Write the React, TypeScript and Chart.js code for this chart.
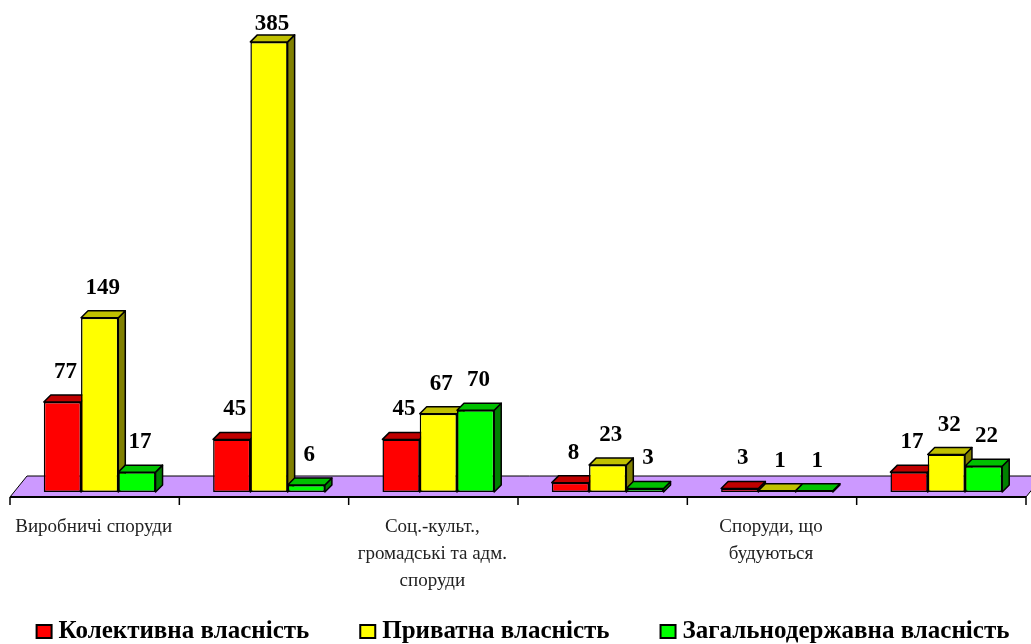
import React, { useEffect, useRef } from "react";
import { Chart, registerables } from "chart.js";

Chart.register(...registerables);

// ---- data ----
const categories: (string | string[])[] = [
  "Виробничі споруди",
  "",
  ["Соц.-культ.,", "громадські та адм.", "споруди"],
  "",
  ["Споруди, що", "будуються"],
  "",
];
const seriesNames = ["Колективна власність", "Приватна власність", "Загальнодержавна власність"];
const collectiveValues = [77, 45, 45, 8, 3, 17];
const privateValues = [149, 385, 67, 23, 1, 32];
const stateValues = [17, 6, 70, 3, 1, 22];

// ---- styles ----
const frontColors = ["#FF0000", "#FFFF00", "#00FF00"];
const topColors = ["#C00000", "#C0C000", "#00C000"];
const sideColors = ["#800000", "#808000", "#008000"];
const floorColor = "#CC99FF";
const DEPTH_X = 7;
const DEPTH_Y = 7;
const FLOOR_DX = 17;
const FLOOR_DY = 21;
const FLOOR_FRONT = 5;
const SERIF = "'Liberation Serif', 'Times New Roman', serif";

const threeD = {
  id: "threeD",
  beforeDatasetsDraw(chart: any) {
    const { ctx, chartArea } = chart;
    const xs = chart.scales.x;
    const ys = chart.scales.y;
    const base = ys.getPixelForValue(0);
    const fy = base + FLOOR_FRONT;
    const fl = chartArea.left - FLOOR_FRONT;
    const fr = chartArea.right - FLOOR_FRONT;
    ctx.save();
    // floor
    ctx.beginPath();
    ctx.moveTo(fl, fy);
    ctx.lineTo(fl + FLOOR_DX, fy - FLOOR_DY);
    ctx.lineTo(fr + FLOOR_DX, fy - FLOOR_DY);
    ctx.lineTo(fr, fy);
    ctx.closePath();
    ctx.fillStyle = floorColor;
    ctx.fill();
    ctx.lineWidth = 1;
    ctx.strokeStyle = "#000";
    ctx.stroke();
    // axis line
    ctx.beginPath();
    ctx.lineWidth = 2;
    ctx.moveTo(fl, fy);
    ctx.lineTo(fr, fy);
    ctx.stroke();
    // tick marks at category boundaries
    const n = categories.length;
    const catW = (chartArea.right - chartArea.left) / n;
    ctx.lineWidth = 1.5;
    for (let i = 0; i <= n; i++) {
      const cx = i < n ? xs.getPixelForValue(i) - catW / 2 : xs.getPixelForValue(n - 1) + catW / 2;
      const x = cx - FLOOR_FRONT;
      ctx.beginPath();
      ctx.moveTo(x, fy);
      ctx.lineTo(x, fy + 8);
      ctx.stroke();
    }
    // tops and sides of bars
    ctx.lineWidth = 1.5;
    ctx.lineJoin = "round";
    chart.data.datasets.forEach((ds: any, di: number) => {
      const meta = chart.getDatasetMeta(di);
      meta.data.forEach((el: any) => {
        const { x, y, base: b, width } = el.getProps(["x", "y", "base", "width"], true);
        const x0 = x - width / 2;
        const x1 = x + width / 2;
        // side
        ctx.beginPath();
        ctx.moveTo(x1, y);
        ctx.lineTo(x1 + DEPTH_X, y - DEPTH_Y);
        ctx.lineTo(x1 + DEPTH_X, b - DEPTH_Y);
        ctx.lineTo(x1, b);
        ctx.closePath();
        ctx.fillStyle = sideColors[di];
        ctx.fill();
        ctx.stroke();
        // top
        ctx.beginPath();
        ctx.moveTo(x0, y);
        ctx.lineTo(x0 + DEPTH_X, y - DEPTH_Y);
        ctx.lineTo(x1 + DEPTH_X, y - DEPTH_Y);
        ctx.lineTo(x1, y);
        ctx.closePath();
        ctx.fillStyle = topColors[di];
        ctx.fill();
        ctx.stroke();
      });
    });
    ctx.restore();
  },
  afterDatasetsDraw(chart: any) {
    const { ctx } = chart;
    ctx.save();
    ctx.font = `bold 23px ${SERIF}`;
    ctx.fillStyle = "#000";
    ctx.textAlign = "center";
    ctx.textBaseline = "middle";
    chart.data.datasets.forEach((ds: any, di: number) => {
      const meta = chart.getDatasetMeta(di);
      meta.data.forEach((el: any, i: number) => {
        const { x, y } = el.getProps(["x", "y"], true);
        const ly = Math.max(y - 30, 24);
        ctx.fillText(String(ds.data[i]), x + 3, ly);
      });
    });
    ctx.restore();
  },
  afterDraw(chart: any) {
    // legend row
    const { ctx, chartArea } = chart;
    ctx.save();
    ctx.font = `bold 25px ${SERIF}`;
    ctx.textBaseline = "middle";
    ctx.textAlign = "left";
    const boxW = 15;
    const boxH = 13;
    const textOff = 22;
    const gap = 51;
    const items = chart.data.datasets.map((ds: any) => ({
      text: ds.label,
      color: ds.backgroundColor,
      w: ctx.measureText(ds.label).width,
    }));
    const total = items.reduce((s: number, it: any) => s + textOff + it.w, 0) + gap * (items.length - 1);
    const cxMid = (chartArea.left + chart.width) / 2;
    let x = cxMid - total / 2;
    const cy = 631.5;
    items.forEach((it: any) => {
      ctx.fillStyle = it.color;
      ctx.fillRect(x, cy - boxH / 2, boxW, boxH);
      ctx.lineWidth = 2;
      ctx.strokeStyle = "#000";
      ctx.strokeRect(x, cy - boxH / 2, boxW, boxH);
      ctx.fillStyle = "#000";
      ctx.fillText(it.text, x + textOff, cy);
      x += textOff + it.w + gap;
    });
    ctx.restore();
  },
};

export default function App() {
  const ref = useRef<HTMLCanvasElement | null>(null);
  useEffect(() => {
    if (!ref.current) return;
    const seriesValues = [collectiveValues, privateValues, stateValues];
    const chart = new Chart(ref.current, {
      type: "bar",
      data: {
        labels: categories,
        datasets: seriesNames.map((name, i) => ({
          label: name,
          data: seriesValues[i],
          backgroundColor: frontColors[i],
          borderColor: "#000",
          borderWidth: 1.5,
          borderSkipped: false,
          categoryPercentage: 0.66,
          barPercentage: 1,
        })),
      },
      options: {
        animation: false,
        responsive: true,
        maintainAspectRatio: false,
        layout: { padding: { top: 8, left: 15, right: 0, bottom: 0 } },
        plugins: {
          tooltip: { enabled: false },
          legend: { display: false },
        },
        scales: {
          x: {
            grid: { display: false, drawTicks: false },
            border: { display: false },
            ticks: {
              autoSkip: false,
              maxRotation: 0,
              minRotation: 0,
              padding: 22,
              labelOffset: -6,
              color: "#222",
              font: { family: SERIF, size: 19, lineHeight: 27 / 19 },
            },
            afterFit: (scale: any) => {
              scale.height = 152;
              scale.paddingLeft = 0;
              scale.paddingRight = 0;
            },
          },
          y: {
            display: false,
            min: 0,
            max: 414,
          },
        },
      },
      plugins: [threeD],
    });
    return () => chart.destroy();
  }, []);
  return (
    <div style={{ position: "absolute", left: 0, top: 0, width: 1031, height: 644, background: "#fff" }}>
      <canvas ref={ref} />
    </div>
  );
}
